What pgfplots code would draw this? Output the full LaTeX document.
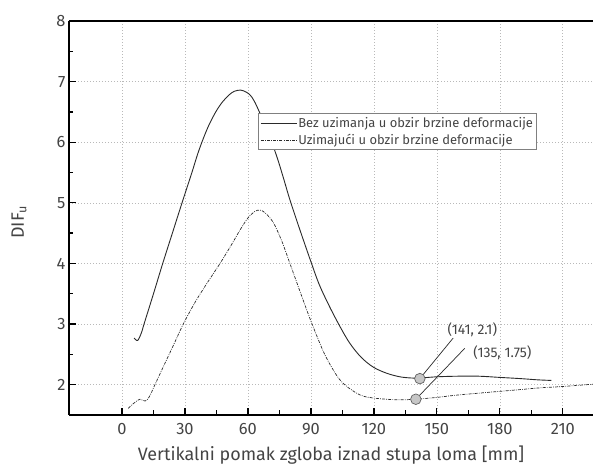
\documentclass[border=0pt]{standalone}
\usepackage{fontspec}
\setmainfont{Fira Sans}
\usepackage{pgfplots}
\pgfplotsset{compat=1.18}
\definecolor{txt}{HTML}{444444}
\definecolor{crv}{HTML}{2A2A2A}
\begin{document}
\begin{tikzpicture}
\begin{axis}[
 name=ax,
 scale only axis,
 width=524bp, height=394bp,
 xmin=-25.25, xmax=224.4, ymin=1.5, ymax=8,
 axis x line=box, axis y line=left,
 axis line style={-, line width=1.2bp, black},
 xtick={0,30,...,210}, ytick={2,3,...,8},
 minor x tick num=1, minor y tick num=1,
 tick align=inside,
 xtick pos=bottom, ytick pos=left,
 major tick length=7bp, minor tick length=4.5bp,
 every tick/.style={black, line width=1.3bp},
 grid=major,
 major grid style={dash pattern=on 1bp off 2bp, gray!55, line width=0.6bp},
 tick label style={font=\fontsize{16.5}{18}\selectfont, text=txt},
 xticklabel style={yshift=-5bp},
 /pgf/number format/assume math mode=true,
 xlabel={Vertikalni pomak zgloba iznad stupa loma [mm]},
 ylabel={DIF\textsubscript{u}},
 x label style={at={(axis description cs:0.5,-0.103)}, anchor=center, font=\fontsize{18}{20}\selectfont, text=txt},
 y label style={at={(axis description cs:-0.0954,0.49)}, anchor=center, font=\fontsize{18}{20}\selectfont, text=txt},
 legend style={at={(axis description cs:0.3607,0.7665)}, anchor=north west, draw=gray, line width=0.8bp,
   font=\fontsize{13}{15}\selectfont, text=txt, inner xsep=2bp, inner ysep=1.5bp,
   nodes={inner xsep=1bp, inner ysep=2.5bp}},
 legend cell align=left,
 legend image code/.code={\draw[#1] (0bp,0bp) -- (36bp,0bp);},
]
\addplot[crv, line width=0.9bp, smooth, tension=0.55] coordinates {
(5.8,2.77) (7.5,2.73) (9.4,2.87) (10.5,3.0) (15,3.5) (19.4,4.0) (24,4.5) (28.6,5.0) (33.3,5.5)
(36,5.8) (38.5,6.04) (41.5,6.29) (45,6.52) (48,6.67) (51,6.78) (53.5,6.84) (56.5,6.86) (59,6.83)
(61,6.78) (63,6.68) (65.7,6.48) (69.5,6.17) (73.7,5.77) (77,5.4) (80,5.05) (85,4.53) (90,4.03)
(94,3.65) (99,3.28) (104,2.95) (108.6,2.68) (114,2.45) (119.7,2.29) (126,2.19) (132.4,2.13)
(138,2.11) (141.9,2.11) (150,2.13) (160,2.14) (170,2.14) (180,2.12) (190,2.1) (198,2.08) (204.6,2.07)
};
\addlegendentry{Bez uzimanja u obzir brzine deformacije}
\addplot[crv, line width=0.7bp, smooth, tension=0.55, dash pattern=on 3bp off 1.2bp on 0.8bp off 1.2bp] coordinates {
(3,1.61) (5.5,1.69) (8.6,1.76) (11,1.73) (13,1.8) (15.7,2.0) (20,2.32) (24.5,2.65) (29.2,3.0)
(35,3.37) (41,3.7) (46.7,4.0) (52,4.3) (56.2,4.55) (60,4.75) (63.4,4.86) (65.7,4.88) (68,4.84)
(72,4.68) (76,4.38) (80,4.0) (85,3.52) (90,3.05) (95.9,2.55) (100,2.28) (103.8,2.08) (107.5,1.96)
(111.8,1.86) (115,1.81) (119.7,1.78) (126,1.76) (132.4,1.75) (140,1.76) (150,1.79) (160,1.83)
(170,1.86) (180,1.89) (190,1.92) (200,1.95) (210,1.97) (225,2.01)
};
\addlegendentry{Uzimajući u obzir brzine deformacije}
\draw[crv, line width=0.7bp] (axis cs:141.9,2.10) -- (axis cs:157.8,2.77);
\draw[crv, line width=0.7bp] (axis cs:140,1.76) -- (axis cs:163.3,2.60);
\addplot[forget plot, only marks, mark=*, mark size=5.3bp,
  mark options={fill=gray!45, draw=gray!75!black, line width=0.7bp}] coordinates {(141.9,2.10) (140,1.76)};
\node[font=\fontsize{14}{16}\selectfont, text=txt] at (axis cs:166.9,2.90) {(141, 2.1)};
\node[font=\fontsize{14}{16}\selectfont, text=txt] at (axis cs:181.2,2.52) {(135, 1.75)};
\end{axis}
\pgfresetboundingbox
\path[use as bounding box] ([shift={(-69bp,-50bp)}]ax.south west) rectangle ([shift={(0bp,21bp)}]ax.north east);
\end{tikzpicture}
\end{document}
